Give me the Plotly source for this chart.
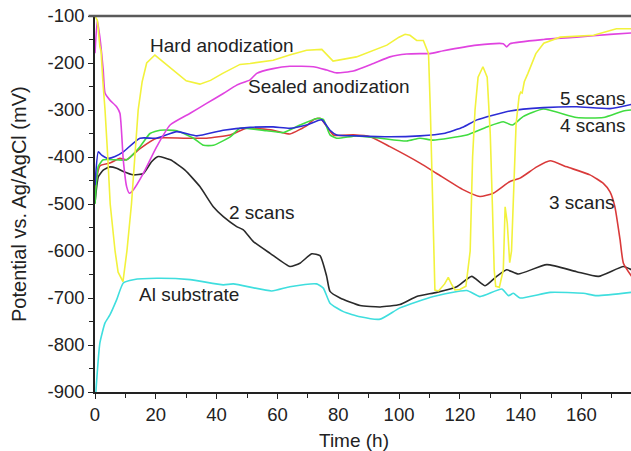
import plotly.graph_objects as go

# ---------------- data ----------------
t_hard = [0, 0.8, 1.6, 2.0, 2.6, 3.3, 4.2, 5, 6.6, 7.6, 9.2, 10.5, 12, 13.2, 14.2, 15.5, 17, 19.7,
          22, 25.8, 30, 34.5, 38, 42, 47.7, 51, 58.6, 64, 69.6, 74.6, 76.8, 78.3, 86, 92, 96, 100,
          102, 103.6, 105.8, 108, 109.7, 110.3, 110.8, 111.3, 111.8, 113, 115, 116.2, 117.2, 118.4,
          120, 122, 123.4, 124.2, 125, 126, 127.6, 129, 130, 130.7, 131.3, 131.8, 133, 134.3, 134.9,
          135.6, 136.4, 137, 137.7, 138.5, 139.5, 140, 140.5, 141.2, 142.4, 145, 147.6, 153, 164,
          171.5, 176.5]
v_hard = [-100, -110, -165, -175, -240, -300, -400, -500, -600, -645, -665, -600, -500, -400, -300,
          -240, -200, -183, -195, -215, -238, -245, -237, -222, -203, -201, -194, -183, -173, -171,
          -187, -196, -187, -172, -162, -145, -139, -141, -152, -152, -180, -300, -442, -600, -683,
          -685, -670, -656, -670, -683, -682, -675, -600, -400, -300, -230, -208, -230, -350, -500,
          -640, -675, -677, -640, -506, -540, -625, -600, -450, -330, -270, -262, -264, -240, -222,
          -180, -158, -145, -141, -127, -127]

t_sealed = [0, 0.76, 1.6, 2.7, 3.3, 4.9, 7.1, 8.2, 9.3, 10.4, 11.3, 12.6, 15.9, 20.3, 24.7, 31.3,
            36.7, 42.2, 46.6, 51, 53.2, 58.6, 64.1, 71.8, 76.2, 79.5, 85, 91.6, 97, 102.5, 106.9,
            110.2, 114.6, 125.6, 134.3, 135.4, 136.5, 147.5, 158.4, 169.4, 176.5]
v_sealed = [-179, -109, -145, -215, -264, -279, -293, -307, -406, -463, -477, -470, -435, -378, -332,
            -307, -286, -265, -247, -236, -222, -212, -207, -208, -215, -221, -217, -201, -187, -181,
            -180, -180, -174, -162, -159, -166, -159, -150, -145, -139, -136]

t_scan5 = [0, 1.1, 2.2, 4.4, 6.6, 9.3, 14.8, 20.3, 26.9, 33.5, 42.2, 51, 58.6, 64.1, 69.6, 74.6,
           77.3, 79.5, 86, 97, 106.9, 114.6, 121.2, 125.6, 136.5, 147.5, 158.4, 169.4, 176.5]
v_scan5 = [-460, -389, -396, -403, -399, -389, -360, -360, -346, -355, -343, -337, -336, -339, -332,
           -321, -343, -353, -355, -357, -355, -350, -336, -321, -302, -295, -293, -297, -288]

t_scan4 = [0, 1.1, 2.7, 7.1, 10.4, 14.8, 18.1, 21.4, 26.9, 32.4, 35.7, 39, 44.5, 47.7, 56.5, 62,
           67.4, 72.9, 75.1, 77.3, 79.5, 86, 93.8, 102.5, 106.9, 111.2, 122.3, 128.9, 134.3, 137.3,
           140.8, 147.5, 158.4, 167.2, 173.8, 176.5]
v_scan4 = [-500, -420, -406, -406, -406, -378, -350, -343, -344, -360, -375, -375, -357, -339, -344,
           -348, -332, -318, -320, -353, -360, -355, -360, -366, -360, -364, -353, -336, -325, -332,
           -314, -298, -316, -316, -302, -300]

t_scan3 = [0, 1.6, 4.9, 8.2, 10.4, 14.8, 20.3, 29.1, 36.7, 44.5, 49.9, 58.6, 64.1, 69.9, 72,
           74.2, 78.4, 85, 90.5, 97, 106.9, 112.4, 121.2, 126.6, 131, 136.5, 139.8, 145.3, 149.7,
           155.2, 162.8, 167.2, 169.4, 171, 172.7, 173.8, 176.5]
v_scan3 = [-470, -419, -413, -403, -406, -382, -360, -360, -360, -353, -339, -343, -351, -332, -320,
           -318, -353, -353, -357, -378, -413, -435, -470, -484, -477, -452, -445, -421, -408, -421,
           -438, -456, -474, -506, -576, -626, -654]

t_scan2 = [0, 1.1, 2.7, 4.9, 7.1, 9.3, 12.6, 15.9, 18.6, 20.8, 24.8, 29.6, 34.5, 38.9, 42.2, 46.6,
           48.8, 52.1, 57.6, 64.1, 67.4, 71.3, 74, 76.2, 77.3, 80.6, 87.2, 93.8, 100.3, 105.8,
           112.4, 119, 123.9, 128.3, 132.1, 135.4, 139.2, 148.6, 158.4, 165.6, 173.8, 176.5]
v_scan2 = [-498, -442, -428, -421, -424, -431, -438, -435, -410, -399, -406, -428, -463, -506, -527,
           -548, -555, -580, -605, -633, -626, -606, -610, -654, -686, -700, -716, -719, -714, -697,
           -688, -676, -654, -674, -654, -640, -649, -629, -644, -654, -633, -640]

t_al = [0.3, 0.5, 1.6, 3.3, 4.9, 7.1, 9.3, 12.6, 20.3, 31.3, 42.2, 45.5, 58.1, 64.1, 72.9, 75.1,
        77.3, 81.7, 87.2, 93.8, 100.3, 111.3, 122.3, 126.6, 133.8, 136, 137.6, 139.8, 149.7, 160.6,
        165, 176.5]
v_al = [-900, -880, -796, -753, -736, -704, -668, -661, -658, -661, -672, -670, -685, -676, -670,
        -679, -711, -729, -740, -745, -721, -697, -684, -697, -681, -695, -690, -700, -688, -690,
        -695, -688]

x_ticks = [0, 20, 40, 60, 80, 100, 120, 140, 160]
x_ticktext = ["0", "20", "40", "60", "80", "100", "120", "140", "160"]
y_ticks = [-900, -800, -700, -600, -500, -400, -300, -200, -100]
y_ticktext = ["-900", "-800", "-700", "-600", "-500", "-400", "-300", "-200", "-100"]

labels = ["Hard anodization", "Sealed anodization", "5 scans", "4 scans", "3 scans", "2 scans", "Al substrate"]
label_t = [41.9, 77.0, 163.5, 163.5, 160.0, 54.6, 30.8]
label_v = [-162, -249, -275, -332, -497, -519, -693]

# ---------------- figure ----------------
FONT = "Liberation Sans, Arial, sans-serif"
series = [
    (t_al, v_al, "#3fdede", "spline"),
    (t_scan2, v_scan2, "#2a2a2a", "spline"),
    (t_scan3, v_scan3, "#d93a3a", "spline"),
    (t_scan4, v_scan4, "#40dc40", "spline"),
    (t_scan5, v_scan5, "#2c2cd6", "spline"),
    (t_sealed, v_sealed, "#e043e0", "spline"),
    (t_hard, v_hard, "#f2f23c", "linear"),
]

fig = go.Figure()
for tx, vy, col, shp in series:
    fig.add_trace(go.Scatter(x=tx, y=vy, mode="lines",
                             line=dict(color=col, width=1.6, shape=shp, smoothing=0.5),
                             showlegend=False, hoverinfo="skip"))

for txt, tx, vy in zip(labels, label_t, label_v):
    fig.add_annotation(x=tx, y=vy, text=txt, showarrow=False,
                       font=dict(family=FONT, size=19, color="#222222"))

PW, PH = 536, 376  # plot area size in px
fig.add_annotation(xref="paper", yref="paper", x=(354 - 95) / PW, y=-(440 - 392) / PH,
                   text="Time (h)", showarrow=False, yanchor="middle",
                   font=dict(family=FONT, size=19, color="#222222"))
fig.add_annotation(xref="paper", yref="paper", x=-(95 - 19) / PW, y=0.5, textangle=-90,
                   text="Potential vs. Ag/AgCl (mV)", showarrow=False, xanchor="center",
                   font=dict(family=FONT, size=20, color="#222222"))

fig.add_shape(type="line", xref="paper", yref="paper", x0=-0.012, x1=1, y0=1, y1=1,
              line=dict(color="#5a5a5a", width=2.5))

fig.update_layout(
    width=631, height=451,
    margin=dict(l=95, r=0, t=16, b=59),
    paper_bgcolor="white", plot_bgcolor="white",
    xaxis=dict(range=[0, 176.3], tickvals=x_ticks, ticktext=x_ticktext,
               showgrid=False, zeroline=False, showline=True, linecolor="#222222", linewidth=1.5,
               ticks="outside", ticklen=5, tickwidth=1.2, tickcolor="#222222",
               minor=dict(dtick=10, tick0=0, ticks="outside", ticklen=4, tickcolor="#222222"),
               tickfont=dict(family=FONT, size=18.5, color="#222222")),
    yaxis=dict(range=[-900, -100], tickvals=y_ticks, ticktext=y_ticktext,
               showgrid=False, zeroline=False, showline=True, linecolor="#222222", linewidth=1.5,
               ticks="outside", ticklen=5, tickwidth=1.2, tickcolor="#222222",
               minor=dict(dtick=50, tick0=0, ticks="outside", ticklen=4, tickcolor="#222222"),
               tickfont=dict(family=FONT, size=18.5, color="#222222")),
)

# remove the page's default 8 px body margin so the 631x451 figure fills the window exactly
fig.write_html("out.html",
               config={"displayModeBar": False},
               post_script="document.body.style.margin='0';"
                           "document.body.style.overflow='hidden';"
                           "document.documentElement.style.overflow='hidden';")
